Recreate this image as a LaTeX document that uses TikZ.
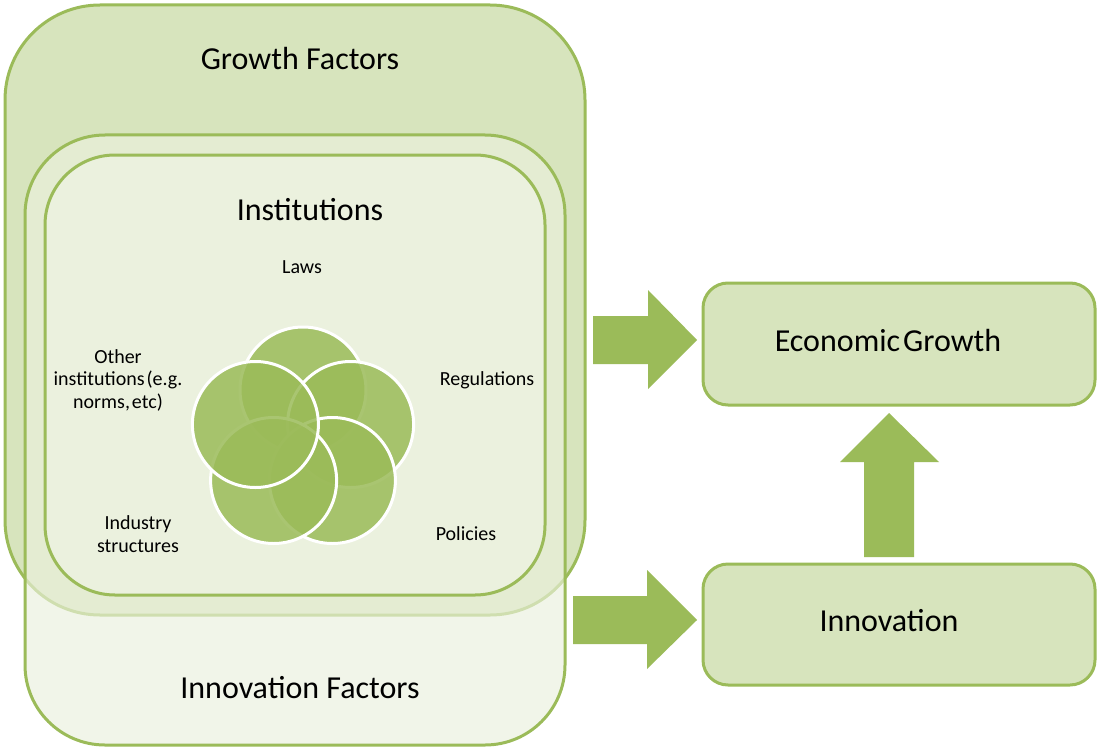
\documentclass[tikz,border=0pt]{standalone}
\usepackage{fontspec}
\setmainfont{Carlito}
\definecolor{gborder}{HTML}{9BBB59}
\definecolor{gfill}{HTML}{D7E4BD}
\definecolor{glight}{HTML}{EBF1DE}
\begin{document}
\begin{tikzpicture}[x=1pt,y=-1pt,
  box/.style={draw=gborder, line width=3pt, inner sep=0pt, outer sep=0pt},
  circ/.style={circle, draw=white, line width=3pt, fill=gborder, fill opacity=0.85, minimum size=126pt, inner sep=0pt},
  big/.style={font=\fontsize{32}{38}\selectfont, text=black},
  small/.style={font=\fontsize{20}{22.5}\selectfont, text=black, align=center},
  blockarrow/.style={fill=gborder}]
\useasboundingbox (0,0) rectangle (1097,749);
\fill[white] (0,0) rectangle (1097,749);
% outer boxes
\node[box, fill=gfill, rounded corners=95pt, minimum width=580pt, minimum height=610pt] (growth) at (295,310) {};
\node[box, fill=glight, fill opacity=0.65, rounded corners=80pt, minimum width=540pt, minimum height=610pt] (innovf) at (295,440) {};
\node[box, fill=glight, rounded corners=70pt, minimum width=500pt, minimum height=440pt] (inst) at (295,375) {};
% titles
\node[big] (tgrowth) at (300,59) {Growth Factors};
\node[big] (tinst) at (310,210) {Institutions};
\node[big] (tinnovf) at (300,688) {Innovation Factors};
% circles
\node[circ] (claws) at (303,390) {};
\node[circ] (creg) at (350.6,424.5) {};
\node[circ] (cpol) at (332.4,480.5) {};
\node[circ] (cind) at (273.6,480.5) {};
\node[circ] (coth) at (255.4,424.5) {};
% labels
\node[small] (llaws) at (302,267) {Laws};
\node[small] (lreg) at (487,380) {Regulations};
\node[small] (lpol) at (466,534) {Policies};
\node[small] (lind) at (138,534) {Industry\\structures};
\node[small] (loth) at (118,380) {Other\\institutions\hspace{2pt}(e.g.\\norms,\hspace{2pt}etc)};
% right boxes
\node[box, fill=gfill, rounded corners=25pt, minimum width=392pt, minimum height=122pt] (eg) at (899,344) {};
\node[box, fill=gfill, rounded corners=25pt, minimum width=392pt, minimum height=121pt] (inn) at (899,624.5) {};
\node[big] (teg) at (888,341) {Economic\hspace{3pt}Growth};
\node[big] (tinn) at (889,621) {Innovation};
% block arrows
\fill[blockarrow] (593,316) -- (648,316) -- (648,290) -- (697,340) -- (648,389) -- (648,364) -- (593,364) -- cycle;
\fill[blockarrow] (573,596) -- (647,596) -- (647,570) -- (697,620) -- (647,669) -- (647,644) -- (573,644) -- cycle;
\fill[blockarrow] (864,557) -- (864,462) -- (840,462) -- (889,413) -- (939,462) -- (914,462) -- (914,557) -- cycle;
\end{tikzpicture}
\end{document}
